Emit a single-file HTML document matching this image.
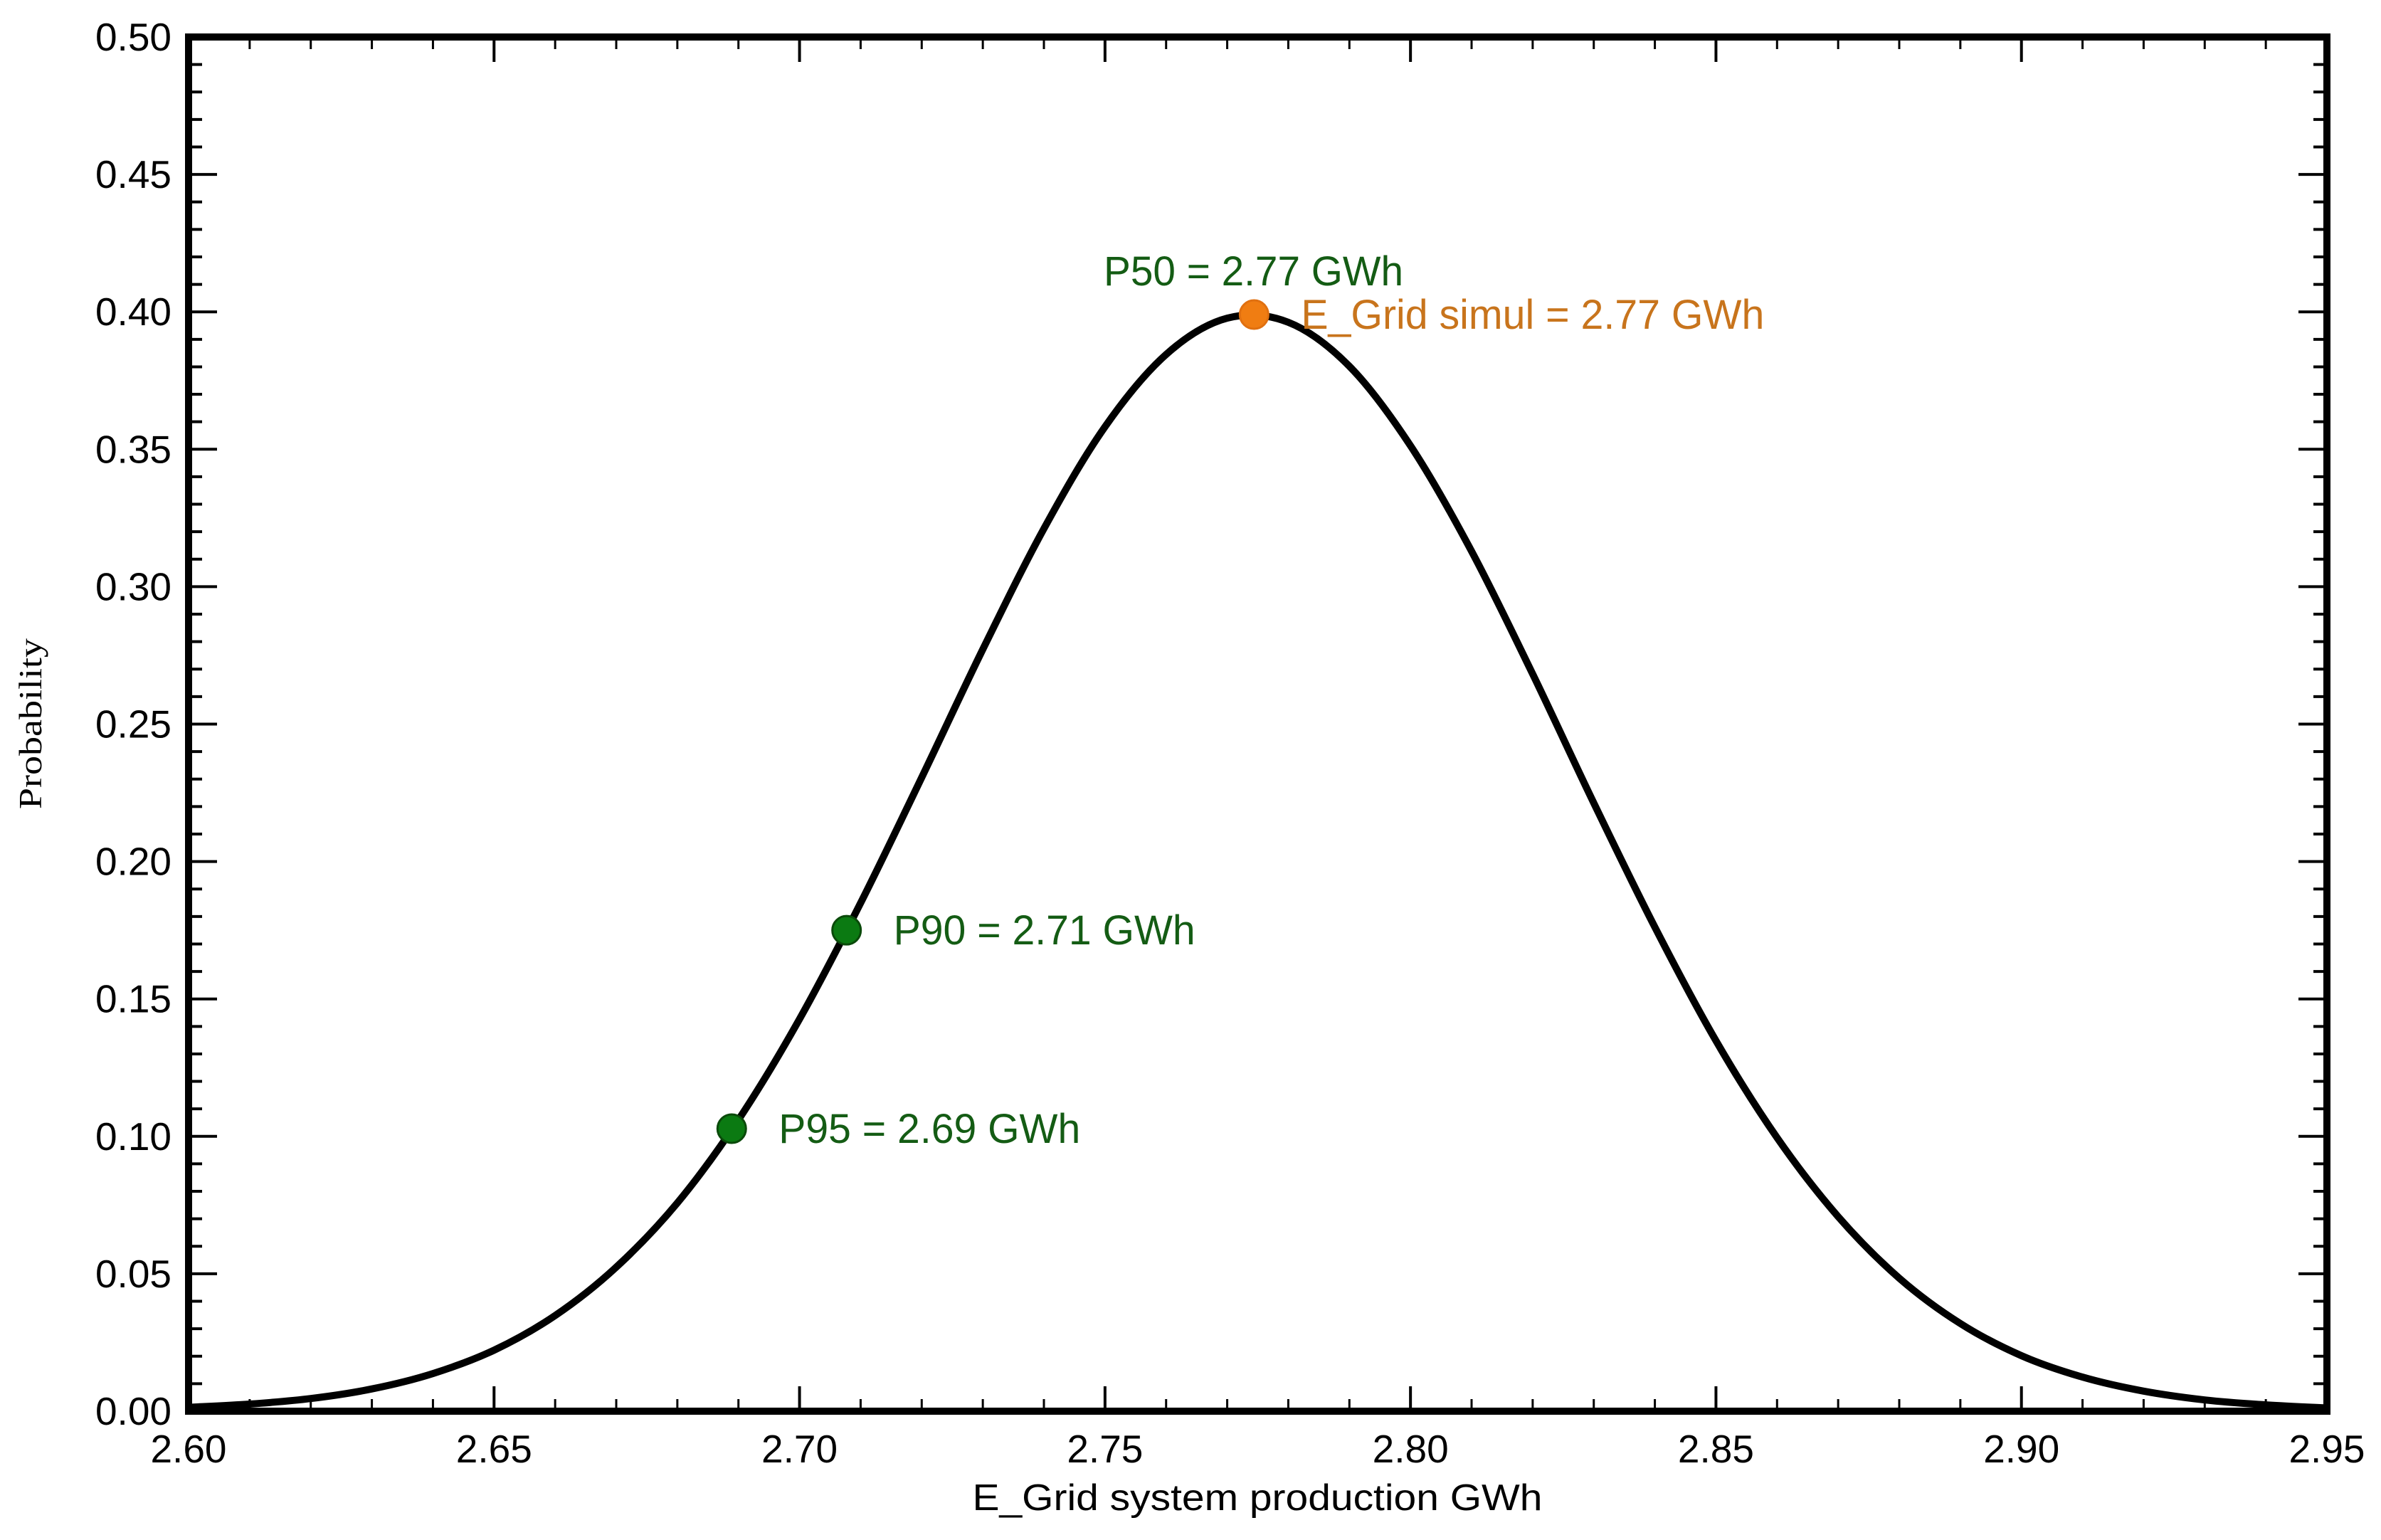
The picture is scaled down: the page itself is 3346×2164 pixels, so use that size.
<!DOCTYPE html>
<html><head><meta charset="utf-8"><style>
html,body{margin:0;padding:0;background:#fff;}
svg{display:block;}
text{font-family:"Liberation Sans",Arial,sans-serif;}
</style></head><body>
<svg id="chart" width="3346" height="2164" viewBox="0 0 3346 2164" xmlns="http://www.w3.org/2000/svg">
<rect x="0" y="0" width="3346" height="2164" fill="#fff"/>
<g id="ticks"></g>
<g id="labels"></g>
<path id="curve" fill="none" stroke="#000" stroke-width="10" stroke-linejoin="round"/>
<rect x="265" y="52" width="3005" height="1931" fill="none" stroke="#000" stroke-width="10"/>
<g id="markers"></g>
<text x="1767" y="2122" text-anchor="middle" font-size="52" textLength="801" lengthAdjust="spacingAndGlyphs">E_Grid system production GWh</text>
<text transform="translate(58,1017) rotate(-90)" text-anchor="middle" font-size="46" style="font-family:'Liberation Serif',serif" textLength="240" lengthAdjust="spacingAndGlyphs">Probability</text>
</svg>
<script>
const curveX = [2.60,2.61,2.62,2.63,2.64,2.65,2.66,2.67,2.68,2.69,2.70,2.71,2.72,2.73,2.74,2.75,2.76,2.77,2.78,2.79,2.80,2.81,2.82,2.83,2.84,2.85,2.86,2.87,2.88,2.89,2.90,2.91,2.92,2.93,2.94,2.95];
const curveY = [0.0014,0.0026,0.0046,0.0081,0.0137,0.0222,0.0348,0.0524,0.0758,0.1060,0.1427,0.1849,0.2306,0.2772,0.3211,0.3582,0.3845,0.3977,0.3962,0.3802,0.3513,0.3129,0.2682,0.2213,0.1761,0.1348,0.0995,0.0708,0.0484,0.0319,0.0202,0.0124,0.0073,0.0041,0.0023,0.0012];
const xTickLabels = ["2.60","2.65","2.70","2.75","2.80","2.85","2.90","2.95"];
const yTickLabels = ["0.00","0.05","0.10","0.15","0.20","0.25","0.30","0.35","0.40","0.45","0.50"];
const pointNames = ["P95","P90","P50"];
const pointX = [2.6889,2.7077,2.7744];
const pointY = [0.1028,0.175,0.399];
const pointLabels = ["P95 = 2.69 GWh","P90 = 2.71 GWh","E_Grid simul = 2.77 GWh"];
const p50Label = "P50 = 2.77 GWh";

const L=265,R=3270,T=52,B=1983,X0=2.60,X1=2.95,Y0=0,Y1=0.5;
const sx=v=>L+(v-X0)/(X1-X0)*(R-L);
const sy=v=>B-(v-Y0)/(Y1-Y0)*(B-T);
const NS="http://www.w3.org/2000/svg";
function mk(tag,attrs,parent){const e=document.createElementNS(NS,tag);for(const k in attrs)e.setAttribute(k,attrs[k]);parent.appendChild(e);return e;}
const ticks=document.getElementById('ticks'),labels=document.getElementById('labels'),markers=document.getElementById('markers');
for(let i=0;i<=35;i++){
  const v=X0+i*0.01, x=sx(v), major=i%5===0, len=major?35:17, w=major?4:3;
  let t=mk('line',{x1:x,y1:B,x2:x,y2:B-len,stroke:'#000','stroke-width':w},ticks);
  
  
  t=mk('line',{x1:x,y1:T,x2:x,y2:T+len,stroke:'#000','stroke-width':w},ticks);
  
  
}
for(let i=0;i<=50;i++){
  const v=i*0.01, y=sy(v), major=i%5===0, len=major?40:19, w=4;
  let t=mk('line',{x1:L,y1:y,x2:L+len,y2:y,stroke:'#000','stroke-width':w},ticks);
  
  
  t=mk('line',{x1:R,y1:y,x2:R-len,y2:y,stroke:'#000','stroke-width':w},ticks);
  
  
}
xTickLabels.forEach((s,i)=>{
  const t=mk('text',{x:sx(parseFloat(s)),y:2055,'text-anchor':'middle','font-size':55},labels);
  t.textContent=s;
  
  
});
yTickLabels.forEach((s,i)=>{
  const t=mk('text',{x:241,y:sy(parseFloat(s))+19,'text-anchor':'end','font-size':55},labels);
  t.textContent=s;
  
  
});
const P=curveX.map((v,i)=>[sx(v),sy(curveY[i])]);
let d='M'+P[0][0].toFixed(1)+','+P[0][1].toFixed(1);
for(let i=0;i<P.length-1;i++){
  const p0=P[Math.max(0,i-1)],p1=P[i],p2=P[i+1],p3=P[Math.min(P.length-1,i+2)];
  const c1=[p1[0]+(p2[0]-p0[0])/6,p1[1]+(p2[1]-p0[1])/6];
  const c2=[p2[0]-(p3[0]-p1[0])/6,p2[1]-(p3[1]-p1[1])/6];
  d+=' C'+c1.map(n=>n.toFixed(1)).join(',')+' '+c2.map(n=>n.toFixed(1)).join(',')+' '+p2.map(n=>n.toFixed(1)).join(',');
}
document.getElementById('curve').setAttribute('d',d);
const labelWidths=[424,424,651];
pointX.forEach((v,i)=>{
  const isP50=i===2;
  const cx=sx(v),cy=sy(pointY[i]);
  const c=mk('circle',{cx:cx,cy:cy,r:20,fill:isP50?'#f07d12':'#0b7a12',stroke:isP50?'#e07010':'#0a4a0a','stroke-width':3},markers);
  
  
  const t=mk('text',{x:cx+66,y:cy+20,'font-size':58,fill:isP50?'#c8741c':'#145c14',textLength:labelWidths[i],lengthAdjust:'spacingAndGlyphs'},markers);
  t.textContent=pointLabels[i];
  
  
});
const t50=mk('text',{x:1551,y:401,'font-size':58,fill:'#145c14',textLength:421,lengthAdjust:'spacingAndGlyphs'},markers);
t50.textContent=p50Label;


</script>
</body></html>
